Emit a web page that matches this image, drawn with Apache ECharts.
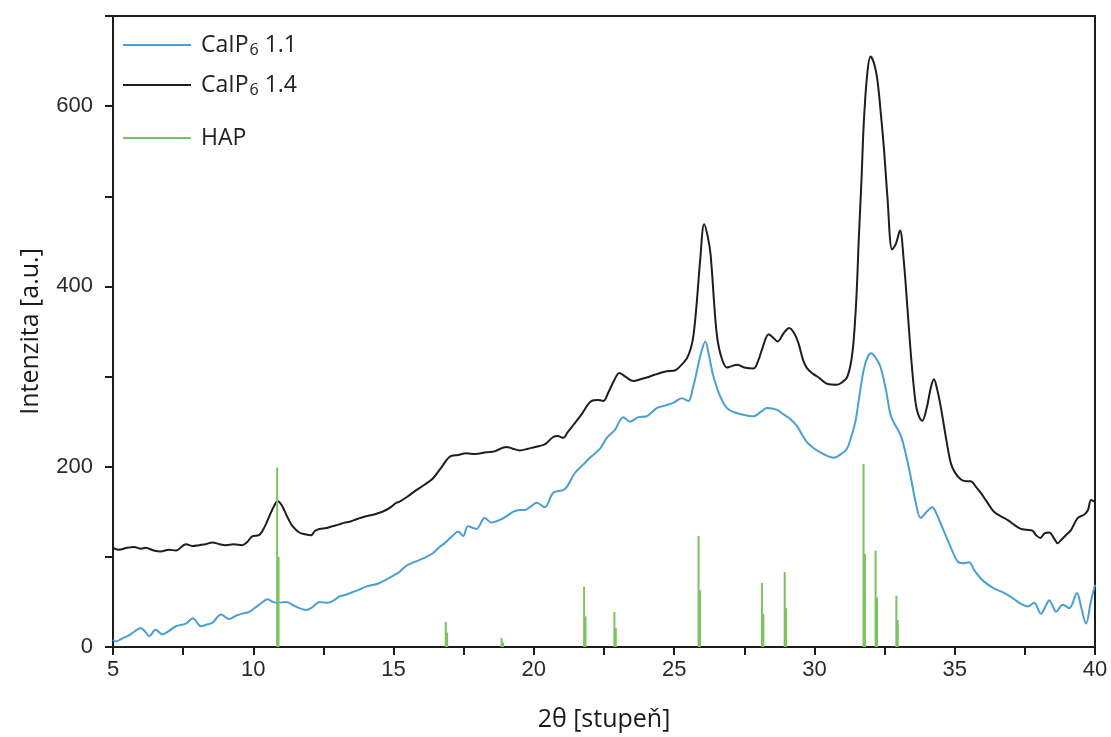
<!DOCTYPE html>
<html>
<head>
<meta charset="utf-8">
<script src="https://cdn.jsdelivr.net/npm/echarts@6/dist/echarts.min.js"></script>
<style>
  html, body { margin: 0; padding: 0; background: #ffffff; }
  #chart { width: 1111px; height: 737px; }
</style>
</head>
<body>
<div id="chart"></div>
<script>
// Diffraction pattern of CaIP6 sample 1.1: [2θ, intensity]
const caip11 = [
  [5.0,8],[5.1,6],[5.3,9],[5.57,13],[5.8,18],[5.99,21],[6.15,17],[6.29,12],[6.52,19],[6.76,14],
  [7.0,18],[7.24,23],[7.6,26],[7.85,32],[8.0,27],[8.13,23],[8.35,25],[8.55,27],[8.85,36],[9.14,31],
  [9.4,35],[9.62,37],[9.86,39],[10.04,43],[10.3,49],[10.51,53],[10.7,50],[10.87,49],[11.17,50],[11.5,45],
  [11.88,41],[12.1,44],[12.36,50],[12.6,49],[12.83,51],[13.07,56],[13.3,58],[13.55,61],[13.8,64],[14.02,67],
  [14.3,69],[14.5,71],[14.75,75],[14.98,79],[15.2,83],[15.45,90],[15.8,95],[16.17,100],[16.4,104],[16.64,111],
  [16.82,115],[17.12,124],[17.3,128],[17.48,123],[17.65,134],[17.95,131],[18.25,143],[18.49,138],[18.79,141],[19.02,145],
  [19.26,150],[19.5,152],[19.68,152],[19.9,156],[20.1,160],[20.39,155],[20.69,171],[21.1,175],[21.46,193],[21.75,202],
  [22.0,210],[22.36,220],[22.6,232],[22.89,241],[23.19,255],[23.43,250],[23.73,255],[24.02,256],[24.38,265],[24.7,268],
  [24.98,271],[25.27,276],[25.51,273],[25.65,285],[25.81,306],[25.95,325],[26.11,339],[26.25,322],[26.4,300],[26.64,278],
  [26.88,265],[27.1,261],[27.42,258],[27.83,256],[28.1,261],[28.31,265],[28.67,263],[28.9,258],[29.1,254],[29.38,245],
  [29.55,236],[29.74,227],[30.0,220],[30.21,216],[30.45,212],[30.69,210],[30.95,214],[31.16,220],[31.3,232],[31.46,250],
  [31.6,278],[31.76,308],[31.9,322],[32.02,326],[32.2,320],[32.36,310],[32.55,285],[32.71,258],[32.83,249],[33.07,235],
  [33.25,215],[33.43,189],[33.6,162],[33.79,143],[34.0,150],[34.2,155],[34.35,148],[34.5,137],[34.8,115],[35.1,95],
  [35.3,93],[35.51,94],[35.7,85],[35.93,76],[36.15,70],[36.4,65],[36.76,60],[37.12,53],[37.35,48],[37.6,45],
  [37.83,49],[38.07,37],[38.25,46],[38.37,52],[38.5,45],[38.61,39],[38.85,47],[39.08,43],[39.36,60],[39.5,45],
  [39.68,26],[39.85,50],[40.0,69]
];

// Diffraction pattern of CaIP6 sample 1.4: [2θ, intensity]
const caip14 = [
  [5.0,110],[5.2,108],[5.5,110],[5.75,111],[6.0,109],[6.17,110],[6.45,107],[6.7,106],[7.0,108],[7.24,107],
  [7.6,114],[7.85,112],[8.07,113],[8.3,114],[8.54,116],[8.8,114],[9.02,113],[9.3,114],[9.61,113],[9.8,117],
  [9.97,123],[10.2,124],[10.4,133],[10.57,145],[10.75,157],[10.87,162],[11.0,158],[11.1,152],[11.25,142],[11.4,134],
  [11.64,127],[11.85,125],[12.06,124],[12.2,129],[12.36,131],[12.6,132],[12.82,134],[13.07,136],[13.25,138],[13.43,139],
  [13.7,142],[13.9,144],[14.02,145],[14.3,147],[14.6,150],[14.85,154],[15.1,160],[15.2,161],[15.5,167],[15.81,174],
  [16.1,180],[16.4,187],[16.7,199],[17.0,211],[17.3,213],[17.6,215],[17.9,214],[18.31,216],[18.6,217],[19.02,222],
  [19.25,220],[19.5,218],[19.8,220],[20.2,223],[20.4,225],[20.69,233],[20.85,234],[21.05,232],[21.2,238],[21.4,246],
  [21.7,258],[22.06,273],[22.3,274],[22.48,273],[22.65,282],[22.85,295],[23.05,304],[23.3,299],[23.55,295],[23.8,297],
  [24.02,299],[24.3,302],[24.5,304],[24.74,306],[25.04,307],[25.2,311],[25.45,320],[25.6,332],[25.69,346],[25.8,380],
  [25.93,430],[26.07,469],[26.2,455],[26.3,435],[26.46,367],[26.55,340],[26.7,320],[26.88,310],[27.0,311],[27.24,313],
  [27.5,310],[27.83,309],[28.0,318],[28.13,330],[28.37,347],[28.5,344],[28.69,339],[28.9,348],[29.1,354],[29.3,347],
  [29.44,336],[29.6,318],[29.74,309],[29.95,303],[30.15,299],[30.45,292],[30.81,291],[31.0,294],[31.16,299],[31.3,315],
  [31.4,341],[31.5,390],[31.58,452],[31.68,520],[31.76,582],[31.88,635],[32.0,655],[32.12,648],[32.24,630],[32.36,594],
  [32.48,552],[32.6,500],[32.77,441],[32.9,447],[33.05,462],[33.18,430],[33.31,378],[33.45,320],[33.6,272],[33.7,258],
  [33.84,251],[34.0,265],[34.15,288],[34.26,297],[34.38,285],[34.5,267],[34.7,230],[34.86,204],[35.0,194],[35.21,186],
  [35.4,184],[35.57,184],[35.75,178],[35.93,171],[36.15,161],[36.4,150],[36.65,145],[36.88,141],[37.1,136],[37.36,131],
  [37.55,130],[37.77,129],[37.9,124],[38.05,121],[38.2,126],[38.37,127],[38.55,120],[38.67,115],[38.8,119],[38.96,124],
  [39.15,130],[39.38,143],[39.62,147],[39.75,152],[39.86,163],[40.0,161]
];

// Hydroxyapatite reference reflections (main line and its weaker companion)
const hapPositions   = [10.85, 16.86, 18.85, 21.79, 22.87, 25.87, 28.13, 28.94, 31.75, 32.18, 32.92];
const hapIntensities = [199, 28, 10, 67, 39, 123, 71, 83, 203, 107, 57];
const hapPositions2   = [10.90, 16.91, 18.90, 21.84, 22.92, 25.92, 28.18, 28.99, 31.80, 32.23, 32.97];
const hapIntensities2 = [100, 16, 5, 34, 21, 63, 37, 43, 103, 55, 30];

const xTicks = { min: 5, max: 40, step: 2.5, labelStep: 5 };
const yTicks = { min: 0, max: 700, step: 100, labelStep: 200 };

const hapData = hapPositions.map((p, i) => [p, hapIntensities[i]])
  .concat(hapPositions2.map((p, i) => [p, hapIntensities2[i]]));

const ink = '#1c1c1c';
const tickFont = { fontFamily: 'Liberation Sans, Arial, sans-serif', fontSize: 22, color: '#2a2a2a' };
const textFont = 'Open Sans, sans-serif';

function legendLabel(base, sub, rest) {
  return '{a|' + base + '}{s|' + sub + '}{a|' + rest + '}';
}
const legendRich = {
  a: { fontFamily: textFont, fontSize: 23, color: '#222' },
  s: { fontFamily: textFont, fontSize: 16, color: '#222', padding: [10, 0, 0, 1] }
};

function makeLegend(name, top, formatter) {
  return {
    data: [name],
    left: 123, top: top, padding: 0,
    icon: 'rect', itemWidth: 68, itemHeight: 2,
    selectedMode: false,
    formatter: formatter,
    textStyle: { rich: legendRich, padding: [0, 0, 0, 5], lineHeight: 30 }
  };
}

const chart = echarts.init(document.getElementById('chart'), null, { renderer: 'canvas' });
chart.setOption({
  backgroundColor: '#ffffff',
  animation: false,
  grid: {
    left: 113, right: 16, top: 16, bottom: 90,
    show: true, borderColor: ink, borderWidth: 2, backgroundColor: 'transparent'
  },
  legend: [
    makeLegend('CaIP6 1.1', 30, () => legendLabel('CaIP', '6', ' 1.1')),
    makeLegend('CaIP6 1.4', 70, () => legendLabel('CaIP', '6', ' 1.4')),
    makeLegend('HAP', 123, () => '{a|HAP}')
  ],
  xAxis: {
    type: 'value',
    min: xTicks.min, max: xTicks.max, interval: xTicks.step,
    name: '2θ [stupeň]', nameLocation: 'middle', nameGap: 60,
    nameTextStyle: { fontFamily: textFont, fontSize: 25, color: '#1a1a1a' },
    axisLine: { show: true, onZero: false, lineStyle: { color: ink, width: 2 } },
    axisTick: { show: true, inside: false, length: 8, lineStyle: { color: ink, width: 2 } },
    axisLabel: Object.assign({
      margin: 12,
      formatter: v => (Math.abs(v / xTicks.labelStep - Math.round(v / xTicks.labelStep)) < 1e-6 ? String(v) : '')
    }, tickFont),
    splitLine: { show: false }
  },
  yAxis: {
    type: 'value',
    min: yTicks.min, max: yTicks.max, interval: yTicks.step,
    name: 'Intenzita [a.u.]', nameLocation: 'middle', nameGap: 70,
    nameTextStyle: { fontFamily: textFont, fontSize: 25, color: '#1a1a1a' },
    axisLine: { show: true, onZero: false, lineStyle: { color: ink, width: 2 } },
    axisTick: { show: true, inside: false, length: 8, lineStyle: { color: ink, width: 2 } },
    axisLabel: Object.assign({
      margin: 20,
      formatter: v => (v % yTicks.labelStep === 0 ? String(v) : '')
    }, tickFont),
    splitLine: { show: false }
  },
  series: [
    {
      name: 'CaIP6 1.1', type: 'line', data: caip11,
      showSymbol: false, symbol: 'none', smooth: 0.35,
      lineStyle: { color: '#4a9fd5', width: 2 }, itemStyle: { color: '#4a9fd5' }, z: 3
    },
    {
      name: 'CaIP6 1.4', type: 'line', data: caip14,
      showSymbol: false, symbol: 'none', smooth: 0.35,
      lineStyle: { color: '#1e1e1e', width: 2 }, itemStyle: { color: '#1e1e1e' }, z: 3
    },
    {
      name: 'HAP', type: 'bar', data: hapData,
      barWidth: 2, itemStyle: { color: '#7cc35e' }, z: 4
    }
  ]
});
</script>
</body>
</html>
